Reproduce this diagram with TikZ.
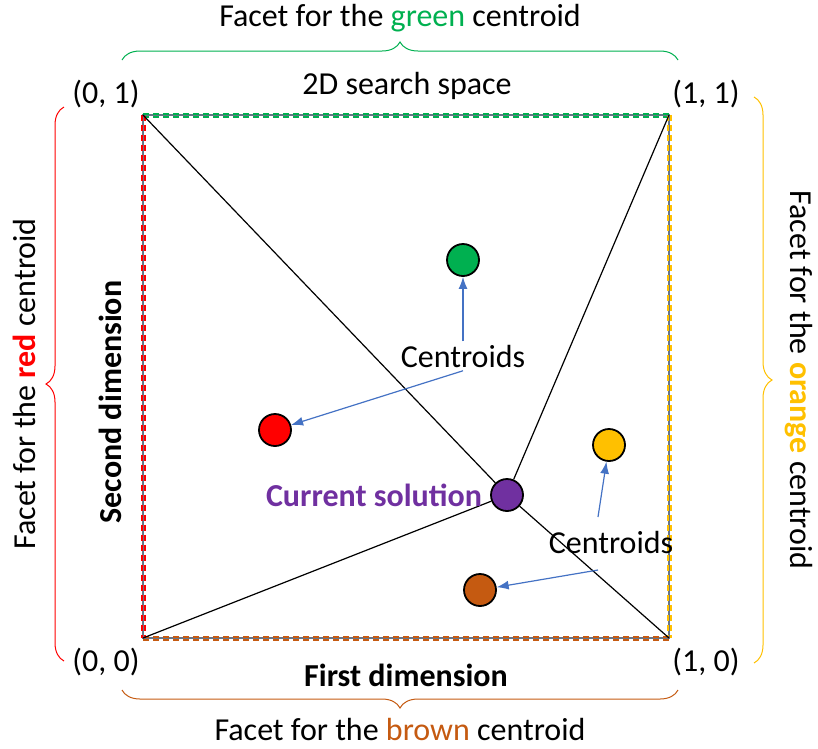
\documentclass[tikz,border=0pt]{standalone}
\usepackage{fontspec}
\setmainfont{Carlito}
\usetikzlibrary{arrows.meta,decorations.pathreplacing}
\definecolor{cgreen}{RGB}{0,176,80}
\definecolor{cred}{RGB}{255,0,0}
\definecolor{corange}{RGB}{255,192,0}
\definecolor{cbrown}{RGB}{197,90,17}
\definecolor{cpurple}{RGB}{112,48,160}
\definecolor{cblue}{RGB}{68,114,196}
\definecolor{cslate}{RGB}{68,84,106}

\begin{document}
\begin{tikzpicture}[x=1pt,y=-1pt,font=\fontsize{32}{38}\selectfont,
  dot/.style={circle,draw=black,line width=1.8pt,minimum size=32pt,inner sep=0pt},
  facet/.style={decorate,decoration={brace,amplitude=18pt},line width=1pt},
  side/.style={line width=5pt,dash pattern=on 6pt off 4pt},
  pointer/.style={-{Latex[length=12pt,width=9pt]},cblue,line width=1.2pt}]
  \useasboundingbox (0,0) rectangle (818,748);
  \coordinate (A) at (143,115);
  \coordinate (B) at (669,115);
  \coordinate (C) at (669,638);
  \coordinate (D) at (143,638);
  \draw[cslate!80,line width=1.5pt] (A) -- (B) -- (C) -- (D) -- cycle;
  \draw[side,cgreen] (A) -- (B);
  \draw[side,corange] (B) -- (C);
  \draw[side,cbrown] (D) -- (C);
  \draw[side,cred] (A) -- (D);
  \draw[cslate!80,line width=0.8pt] (A) -- (B) -- (C) -- (D) -- cycle;

  \node[dot,fill=cpurple] (P) at (507,495) {};
  \draw[line width=1.2pt] (A) -- (P) (B) -- (P) (C) -- (P) (D) -- (P);
  \node[dot,fill=cgreen] (G) at (463,260) {};
  \node[dot,fill=cred] (R) at (275,430) {};
  \node[dot,fill=corange] (O) at (609,445) {};
  \node[dot,fill=cbrown] (Br) at (480,590) {};

  \node (l01) at (106,94) {(0, 1)};
  \node (l11) at (706,94) {(1, 1)};
  \node (l00) at (106,662) {(0, 0)};
  \node (l10) at (706,662) {(1, 0)};
  \node (space) at (407,86) {2D search space};
  \node (dim1) at (406,675) {\bfseries First dimension};
  \node[rotate=90] (dim2) at (110,402) {\bfseries Second dimension};
  \node[text=cpurple] (sol) at (374,495) {\bfseries Current solution};

  \node (cu) at (463,356) {Centroids};
  \node (cl) at (611,542) {Centroids};
  \coordinate (cl1) at (598,517);
  \coordinate (cl2) at (598,570);
  \draw[pointer] (cu.north) -- (G);
  \draw[pointer] (cu.south) -- (R);
  \draw[pointer] (cl1) -- (O);
  \draw[pointer] (cl2) -- (Br);

  \draw[facet,cgreen] (122,60) -- (678,60);
  \draw[facet,cbrown] (678,690) -- (122,690);
  \draw[facet,cred] (64,661) -- (64,107);
  \draw[facet,corange] (754,97) -- (754,663);
  \node (fg) at (400,18) {Facet for the \textcolor{cgreen}{green} centroid};
  \node (fb) at (400,729) {Facet for the \textcolor{cbrown}{brown} centroid};
  \node[rotate=90] (fr) at (24,384) {Facet for the \textcolor{cred}{\bfseries red} centroid};
  \node[rotate=-90] (fo) at (799,380) {Facet for the \textcolor{corange}{\bfseries orange} centroid};
\end{tikzpicture}
\end{document}
